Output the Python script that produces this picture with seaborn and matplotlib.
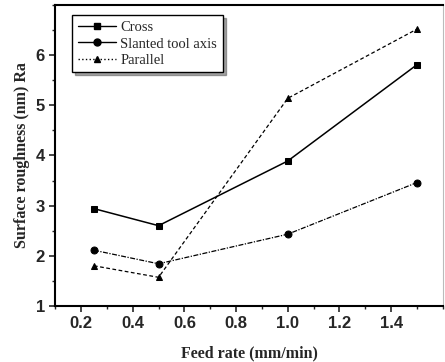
import matplotlib.pyplot as plt
import pandas as pd
import seaborn as sns
from matplotlib.lines import Line2D
from matplotlib.ticker import MultipleLocator

sns.set_theme(style="ticks")
plt.rcParams["font.family"] = ["Liberation Serif", "DejaVu Serif"]

feed_rate = [0.25, 0.5, 1.0, 1.5]
cross = [2.94, 2.60, 3.89, 5.81]
slanted = [2.11, 1.84, 2.43, 3.46]
parallel = [1.80, 1.57, 5.14, 6.52]
series_names = ["Cross", "Slanted tool axis", "Parallel"]
x_ticks = [0.2, 0.4, 0.6, 0.8, 1.0, 1.2, 1.4]

df = pd.DataFrame({
    "feed": feed_rate * 3,
    "ra": cross + slanted + parallel,
    "series": [n for n in series_names for _ in feed_rate],
})

styles = {
    "Cross": dict(marker="s", ls="-", lw=1.1, leg_ls="-"),
    "Slanted tool axis": dict(marker="o", ls=(0, (4, 1.2, 1, 1.2)), lw=0.9, leg_ls="-"),
    "Parallel": dict(marker="^", ls=(0, (3, 2)), lw=0.9, leg_ls=":"),
}

fig = plt.figure(figsize=(4.45, 3.62), dpi=100)
ax = fig.add_axes([0.124, 0.155, 0.871, 0.831])

for name in series_names:
    sub = df[df["series"] == name]
    st = styles[name]
    sns.lineplot(data=sub, x="feed", y="ra", ax=ax, color="black",
                 marker=st["marker"], linestyle=st["ls"], linewidth=st["lw"],
                 markersize=5, markeredgecolor="black", legend=False)

ax.set_xlim(0.1, 1.6)
ax.set_ylim(1.0, 7.0)
ax.set_xticks(x_ticks)
ax.xaxis.set_minor_locator(MultipleLocator(0.1))
ax.set_yticks([1, 2, 3, 4, 5, 6])
ax.yaxis.set_minor_locator(MultipleLocator(0.5))
ax.tick_params(which="major", direction="out", length=4, width=1.2,
               labelsize=12)
ax.tick_params(which="minor", direction="out", length=2.5, width=1)
for lab in ax.get_xticklabels() + ax.get_yticklabels():
    lab.set_family(["Liberation Sans", "DejaVu Sans"])
    lab.set_fontweight("bold")

ax.set_xlabel("Feed rate (mm/min)", fontsize=11.5, fontweight="bold", labelpad=10)
ax.set_ylabel("Surface roughness (nm) Ra", fontsize=11.5, fontweight="bold")

for side in ["left", "bottom", "top"]:
    ax.spines[side].set_linewidth(1.5)
    ax.spines[side].set_color("black")
ax.spines["right"].set_linewidth(0.8)
ax.spines["right"].set_color("#bbbbbb")

handles = [Line2D([], [], color="black", marker=styles[n]["marker"],
                  linestyle=styles[n]["leg_ls"], linewidth=1.0, markersize=5)
           for n in series_names]
leg = ax.legend(handles=handles, labels=series_names, loc="upper left",
                bbox_to_anchor=(0.025, 0.99), frameon=True, fancybox=False,
                shadow=True, fontsize=10.5, handlelength=2.6,
                borderpad=0.4, labelspacing=0.2, handletextpad=0.3)
leg.get_frame().set_edgecolor("black")
leg.get_frame().set_linewidth(1.0)

fig.savefig("out.png", dpi=100)
